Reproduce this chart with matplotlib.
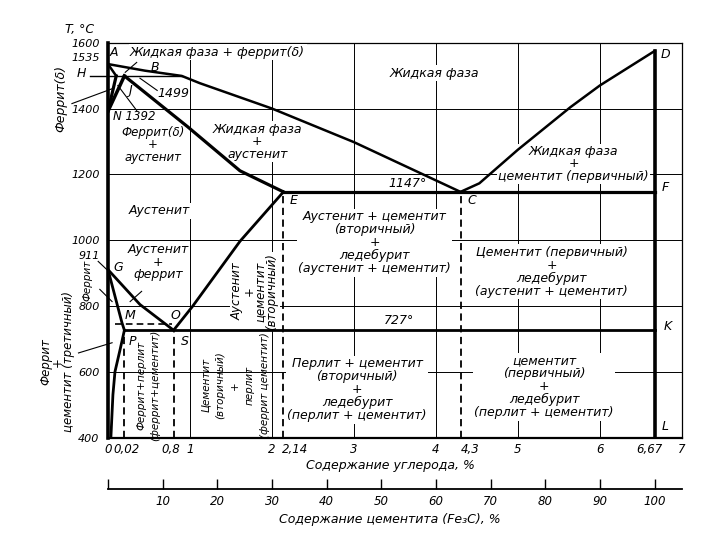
import matplotlib
matplotlib.use('Agg')
import matplotlib.pyplot as plt
from matplotlib.transforms import ScaledTranslation

plt.rcParams['font.family'] = ['DejaVu Sans']
plt.rcParams['font.style'] = 'italic'
plt.rcParams['font.size'] = 9

# ---------------- data (carbon %, temperature °C) ----------------
liq_AC_c = [0, 0.45, 0.9, 1.12, 2.0, 3.0, 4.3]
liq_AC_t = [1535, 1515, 1499, 1477, 1400, 1298, 1147]
liq_CD_c = [4.3, 4.53, 5.0, 5.64, 6.0, 6.67]
liq_CD_t = [1147, 1173, 1275, 1404, 1470, 1575]
sol_JE_c = [0.2, 0.97, 1.61, 2.14]
sol_JE_t = [1499, 1345, 1211, 1147]
AH_c = [0, 0.1]
AH_t = [1535, 1499]
HN_c = [0.1, 0]
HN_t = [1499, 1392]
JN_c = [0.2, 0]
JN_t = [1499, 1392]
HB_c = [-0.22, 0.9]
HB_t = [1499, 1499]
GS_c = [0, 0.39, 0.8]
GS_t = [911, 805, 727]
ES_c = [0.8, 1.03, 1.61, 2.14]
ES_t = [727, 799, 997, 1147]
GP_c = [0, 0.17, 0.2]
GP_t = [911, 750, 727]
PQ_c = [0.2, 0.15, 0.085, 0.06, 0.035]
PQ_t = [727, 671, 601, 531, 400]
MO_c = [0.085, 0.78]
MO_t = [745, 745]
ECF_c = [2.14, 6.67]
ECF_t = [1147, 1147]
PSK_c = [0.2, 6.67]
PSK_t = [727, 727]
cem_c = [6.67, 6.67]
cem_t = [1575, 400]
dashed_c = [0.2, 0.8, 2.14, 4.3]
dashed_top = [727, 727, 1147, 1147]

xtick_pos = [0, 0.02, 0.8, 1, 2, 2.14, 3, 4, 4.3, 5, 6, 6.67, 7]
xtick_lab = ['0', '0,02', '0,8', '1', '2', '2,14', '3', '4', '4,3', '5', '6', '6,67', '7']
xtick_shift = [0, 17, -3, 0, 0, 12, 0, 0, 10, 0, 0, -5, 0]
ytick_pos = [400, 600, 800, 1000, 1200, 1400, 1600]
ytick_lab = ['400', '600', '800', '1000', '1200', '1400', '1600']
cem_pct = [0, 10, 20, 30, 40, 50, 60, 70, 80, 90, 100]

fig = plt.figure(figsize=(7.2, 5.4), dpi=100)
ax = fig.add_axes([0.15, 0.189, 0.797, 0.732])
ax.set_xlim(0, 7)
ax.set_ylim(400, 1600)

# grid
for g in [1, 2, 3, 4, 5, 6]:
    ax.plot([g, g], [400, 1600], color='black', lw=0.7, zorder=1)
for g in [600, 800, 1000, 1200, 1400]:
    ax.plot([0, 7], [g, g], color='black', lw=0.7, zorder=1)

K = 'black'
LZ = 5
ax.plot(liq_AC_c, liq_AC_t, color=K, lw=1.8, zorder=LZ)
ax.plot(liq_CD_c, liq_CD_t, color=K, lw=1.8, zorder=LZ)
ax.plot(sol_JE_c, sol_JE_t, color=K, lw=2.3, zorder=LZ)
ax.plot(AH_c, AH_t, color=K, lw=1.8, zorder=LZ)
ax.plot(HN_c, HN_t, color=K, lw=2.3, zorder=LZ)
ax.plot(JN_c, JN_t, color=K, lw=2.5, zorder=LZ)
ax.plot(HB_c, HB_t, color=K, lw=1.0, zorder=LZ, clip_on=False)
ax.plot(GS_c, GS_t, color=K, lw=2.0, zorder=LZ)
ax.plot(ES_c, ES_t, color=K, lw=2.0, zorder=LZ)
ax.plot(GP_c, GP_t, color=K, lw=2.0, zorder=LZ)
ax.plot(PQ_c, PQ_t, color=K, lw=2.0, zorder=LZ)
ax.plot(MO_c, MO_t, color=K, lw=1.2, ls=(0, (4, 2.5)), zorder=LZ)
ax.plot(ECF_c, ECF_t, color=K, lw=2.3, zorder=LZ)
ax.plot(PSK_c, PSK_t, color=K, lw=2.0, zorder=LZ)
ax.plot(cem_c, cem_t, color=K, lw=2.6, zorder=LZ)
for c, t in zip(dashed_c, dashed_top):
    ax.plot([c, c], [400, t], color=K, lw=1.3, ls=(0, (4, 2.5)), zorder=LZ)

for s in ['top', 'right']:
    ax.spines[s].set_linewidth(0.9)
ax.spines['left'].set_linewidth(2.6)
ax.spines['bottom'].set_linewidth(1.6)

ax.set_yticks(ytick_pos)
ax.set_yticklabels(ytick_lab, fontsize=8)
ax.tick_params(axis='y', length=0, pad=6)
ax.set_xticks(xtick_pos)
ax.set_xticklabels(xtick_lab, fontsize=8.5)
ax.tick_params(axis='x', length=0, pad=4)
for lab, dx in zip(ax.get_xticklabels(), xtick_shift):
    lab.set_transform(lab.get_transform() + ScaledTranslation(dx / 100, 0, fig.dpi_scale_trans))

# extra y labels (1535, 911)
ax.text(-0.1, 1553, '1535', ha='right', va='center', fontsize=8, clip_on=False)
ax.text(-0.1, 952, '911', ha='right', va='center', fontsize=8, clip_on=False)

fig.text(80 / 720, 1 - 30 / 540, 'T, °C', ha='center', va='center', fontsize=9)

# point labels
pts = [('A', 0.07, 1571), ('B', 0.57, 1525), ('D', 6.74, 1563), ('J', 0.27, 1455),
       ('G', 0.12, 917), ('M', 0.27, 771), ('O', 0.82, 771), ('P', 0.3, 694),
       ('S', 0.94, 694), ('E', 2.27, 1122), ('C', 4.44, 1122), ('F', 6.75, 1159),
       ('K', 6.78, 738), ('L', 6.75, 436)]
for s, x, y in pts:
    ax.text(x, y, s, ha='left' if s in 'DFKL' else 'center', va='center', fontsize=9,
            clip_on=False, zorder=6)
ax.text(-0.32, 1507, 'H', ha='center', va='center', fontsize=9, clip_on=False)
ax.text(0.06, 1377, 'N 1392', ha='left', va='center', fontsize=8.5, zorder=6)
ax.text(0.6, 1446, '1499', ha='left', va='center', fontsize=9, zorder=6)
ax.text(3.65, 1173, '1147°', ha='center', va='center', fontsize=9, zorder=6)
ax.text(3.55, 758, '727°', ha='center', va='center', fontsize=9, zorder=6)

wb = dict(facecolor='white', edgecolor='none', pad=1.0)
ax.text(0.27, 1571, 'Жидкая фаза + феррит(δ)', ha='left', va='center', fontsize=9, bbox=wb, zorder=4)
ax.text(3.98, 1507, 'Жидкая фаза', ha='center', va='center', fontsize=9, bbox=wb, zorder=4)
ax.text(0.55, 1290, 'Феррит(δ)\n+\nаустенит', ha='center', va='center', fontsize=8.5,
        linespacing=0.95, bbox=wb, zorder=4)
ax.text(1.82, 1299, 'Жидкая фаза\n+\nаустенит', ha='center', va='center', fontsize=9,
        linespacing=0.95, bbox=wb, zorder=4)
ax.text(5.68, 1232, 'Жидкая фаза\n+\nцементит (первичный)', ha='center', va='center',
        fontsize=9, linespacing=0.95, bbox=wb, zorder=4)
ax.text(0.63, 1089, 'Аустенит', ha='center', va='center', fontsize=9, bbox=wb, zorder=4)
ax.text(0.61, 933, 'Аустенит\n+\nферрит', ha='center', va='center', fontsize=9,
        linespacing=0.95, bbox=wb, zorder=4)
ax.text(1.79, 845, 'Аустенит\n+\nцементит\n(вторичный)', ha='center', va='center',
        fontsize=8.5, rotation=90, linespacing=0.85, bbox=wb, zorder=4)
ax.text(3.25, 993, 'Аустенит + цементит\n(вторичный)\n+\nледебурит\n(аустенит + цементит)',
        ha='center', va='center', fontsize=9, linespacing=1.0, bbox=wb, zorder=4)
ax.text(5.41, 905, 'Цементит (первичный)\n+\nледебурит\n(аустенит + цементит)',
        ha='center', va='center', fontsize=9, linespacing=1.0, bbox=wb, zorder=4)
ax.text(3.04, 546, 'Перлит + цементит\n(вторичный)\n+\nледебурит\n(перлит + цементит)',
        ha='center', va='center', fontsize=9, linespacing=1.0, bbox=wb, zorder=4)
ax.text(5.32, 555, 'цементит\n(первичный)\n+\nледебурит\n(перлит + цементит)',
        ha='center', va='center', fontsize=9, linespacing=1.0, bbox=wb, zorder=4)
ax.text(0.49, 560, 'Феррит+перлит\n(феррит+цементит)', ha='center', va='center',
        fontsize=7.5, rotation=90, linespacing=1.5, zorder=4)
ax.text(1.55, 560, 'Цементит\n(вторичный)\n+\nперлит\n(феррит цементит)', ha='center',
        va='center', fontsize=7.5, rotation=90, linespacing=1.6, zorder=4)

# labels outside the axes (left)
ax.text(-0.62, 631, 'Феррит\n+\nцементит (третичный)', ha='center', va='center', fontsize=8.5,
        rotation=90, linespacing=0.85, clip_on=False)
ax.text(-0.25, 878, 'Феррит', ha='center', va='center', fontsize=7.5, rotation=90, clip_on=False)
ax.text(-0.58, 1430, 'Феррит(δ)', ha='center', va='center', fontsize=9, rotation=90, clip_on=False)

# leader lines
leaders = [((-0.44, 0.06), (1415, 1461)), ((0.35, 0.21), (1540, 1510)),
           ((0.39, 0.6), (1492, 1455)), ((0.35, 0.12), (1394, 1470)),
           ((-0.12, 0.05), (936, 896)), ((-0.1, 0.05), (851, 814)),
           ((-0.36, 0.05), (658, 689)), ((0.27, 0.41), (814, 845))]
for xs, ys in leaders:
    ax.plot(xs, ys, color=K, lw=0.8, clip_on=False, zorder=4)

fig.text(390 / 720, 1 - 465 / 540, 'Содержание углерода, %', ha='center', va='center', fontsize=9)

# secondary axis: cementite content
ax2 = fig.add_axes([0.15, 1 - 489 / 540, 0.797, 0.0001])
ax2.set_xlim(0, 7)
for s in ['top', 'left', 'right']:
    ax2.spines[s].set_visible(False)
ax2.spines['bottom'].set_linewidth(1.3)
ax2.set_yticks([])
ax2.set_xticks([p * 6.67 / 100 for p in cem_pct])
ax2.set_xticklabels(['' if p == 0 else str(p) for p in cem_pct], fontsize=8.5)
ax2.tick_params(axis='x', direction='in', length=7, width=1.0, pad=4)
fig.text(390 / 720, 1 - 520 / 540, 'Содержание цементита (Fe₃C), %', ha='center', va='center', fontsize=9)

fig.savefig('out.png', dpi=100)
